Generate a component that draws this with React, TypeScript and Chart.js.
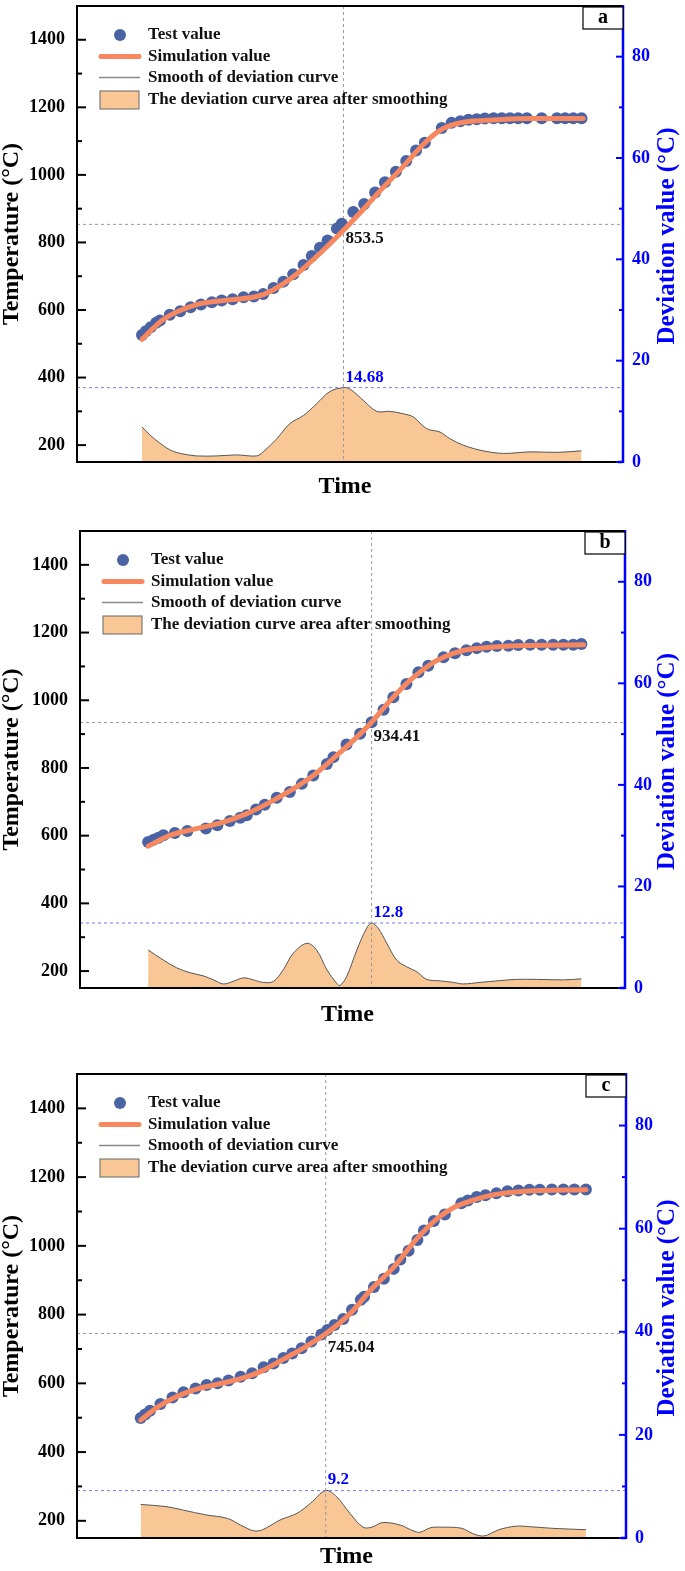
import React, { useEffect, useRef } from 'react';
import Chart from 'chart.js/auto';

// x is time as a percentage of the (unlabelled) time axis
// panel a
const testTimeA = [11.9, 12.6, 13.5, 14.5, 15.2, 17.0, 18.9, 20.8, 22.7, 24.7, 26.5, 28.5, 30.5, 32.4, 34.1, 36.0, 37.8, 39.6, 41.5, 43.0, 44.5, 45.9, 47.6, 48.5, 50.6, 52.6, 54.6, 56.4, 58.4, 60.3, 62.1, 63.7, 66.8, 68.6, 70.2, 71.7, 73.2, 74.7, 76.3, 77.8, 79.3, 80.8, 82.4, 85.1, 87.9, 89.4, 90.9, 92.4];
const testTempA = [526, 537, 549, 562, 569, 586, 596, 608, 616, 623, 628, 632, 638, 640, 647, 665, 684, 706, 733, 760, 784, 806, 841, 855, 890, 914, 948, 978, 1009, 1041, 1072, 1095, 1139, 1154, 1159, 1163, 1165, 1167, 1168, 1168, 1168, 1168, 1168, 1168, 1168, 1168, 1168, 1168];
const simTimeA = [11.9, 15.8, 21.9, 28.0, 32.9, 35.4, 40.2, 45.1, 48.8, 52.5, 56.1, 59.8, 63.4, 66.2, 68.3, 70.8, 76.9, 83.0, 92.7];
const simTempA = [513, 572, 616, 630, 640, 655, 706, 777, 836, 899, 963, 1026, 1090, 1129, 1146, 1156, 1163, 1167, 1167];
const devTimeA = [11.9, 13.4, 15.2, 17.0, 18.9, 21.9, 25.6, 29.3, 32.9, 34.1, 36.6, 39.0, 41.5, 43.9, 46.3, 48.8, 50.0, 52.5, 54.9, 57.3, 59.8, 61.6, 64.0, 66.5, 68.3, 70.8, 74.4, 78.1, 83.0, 87.9, 92.4];
const devValueA = [6.9, 5.3, 3.7, 2.4, 1.7, 1.2, 1.2, 1.4, 1.2, 2.0, 4.6, 7.6, 9.2, 11.5, 13.9, 14.68, 14.4, 12.1, 10.0, 10.0, 9.5, 8.9, 6.6, 5.9, 4.6, 3.3, 2.2, 1.7, 2.0, 1.9, 2.2];

// panel b
const testTimeB = [12.5, 13.5, 14.4, 15.3, 17.4, 19.7, 23.1, 25.2, 27.5, 29.4, 30.6, 32.3, 33.9, 36.1, 38.5, 40.7, 42.8, 45.3, 46.5, 48.9, 51.4, 53.5, 55.7, 57.5, 59.9, 62.1, 63.9, 66.7, 68.8, 70.9, 72.8, 74.6, 76.5, 78.6, 80.4, 82.6, 84.7, 86.8, 88.7, 90.5, 92.0];
const testTempB = [581, 588, 594, 601, 608, 614, 621, 631, 643, 653, 660, 677, 691, 712, 729, 753, 778, 812, 832, 869, 901, 935, 972, 1009, 1048, 1083, 1102, 1127, 1139, 1148, 1154, 1158, 1160, 1161, 1163, 1164, 1164, 1164, 1164, 1164, 1166];
const simTimeB = [12.5, 16.5, 21.4, 26.3, 30.6, 34.9, 38.5, 42.8, 47.1, 50.8, 53.5, 56.9, 60.5, 64.2, 66.7, 70.3, 76.5, 82.6, 92.4];
const simTempB = [569, 601, 621, 640, 665, 699, 732, 778, 837, 891, 935, 999, 1058, 1105, 1127, 1147, 1158, 1162, 1164];
const devTimeB = [12.5, 15.3, 17.7, 20.2, 22.6, 24.5, 26.3, 28.1, 30.0, 31.8, 33.6, 35.5, 37.3, 39.1, 41.6, 43.4, 45.3, 47.1, 47.7, 48.9, 50.8, 52.6, 53.5, 54.7, 56.3, 58.1, 59.9, 61.8, 63.6, 66.1, 68.5, 70.3, 73.4, 76.5, 80.1, 83.8, 88.7, 92.0];
const devValueB = [7.5, 5.5, 4.0, 3.0, 2.4, 1.6, 0.8, 1.3, 2.0, 1.6, 1.1, 1.3, 3.6, 6.8, 8.8, 7.5, 3.6, 0.9, 0.5, 2.2, 7.5, 11.8, 12.8, 11.8, 8.8, 5.5, 4.2, 3.2, 1.7, 1.4, 1.1, 0.8, 1.1, 1.4, 1.7, 1.7, 1.6, 1.8];

// panel c
const testTimeC = [11.6, 12.4, 13.3, 15.2, 17.4, 19.4, 21.6, 23.6, 25.6, 27.6, 29.8, 31.9, 34.0, 35.8, 37.6, 39.2, 40.9, 42.7, 44.5, 45.6, 46.9, 48.5, 50.1, 51.7, 52.3, 54.1, 55.9, 57.7, 58.9, 60.4, 62.0, 63.2, 65.0, 67.0, 70.0, 71.2, 72.8, 74.4, 76.4, 78.4, 80.4, 82.4, 84.3, 86.5, 88.6, 90.6, 92.7];
const testTempC = [499, 509, 520, 540, 559, 574, 585, 595, 600, 608, 619, 629, 647, 658, 674, 687, 702, 722, 742, 755, 770, 787, 814, 843, 852, 880, 904, 933, 960, 986, 1017, 1045, 1072, 1091, 1124, 1132, 1142, 1147, 1153, 1159, 1161, 1163, 1163, 1164, 1164, 1164, 1164];
const simTimeC = [11.6, 14.6, 17.8, 21.8, 25.8, 30.6, 33.8, 37.7, 41.7, 45.3, 49.7, 53.7, 57.7, 61.6, 65.6, 68.8, 72.0, 76.0, 81.6, 92.7];
const simTempC = [493, 530, 559, 583, 598, 617, 637, 671, 707, 744, 802, 875, 938, 1015, 1079, 1113, 1132, 1149, 1159, 1163];
const devTimeC = [11.6, 16.2, 19.4, 23.4, 27.4, 29.8, 32.2, 33.8, 37.0, 40.1, 42.5, 45.3, 47.3, 49.7, 52.1, 53.7, 55.7, 58.9, 60.8, 62.4, 64.4, 66.4, 70.0, 72.0, 73.6, 74.8, 76.8, 80.0, 82.4, 86.3, 92.7];
const devValueC = [6.5, 6.1, 5.4, 4.5, 3.8, 2.5, 1.4, 1.6, 3.5, 4.8, 6.7, 9.2, 8.0, 4.8, 2.1, 2.1, 3.0, 2.5, 1.6, 1.1, 2.0, 2.1, 1.9, 0.9, 0.4, 0.6, 1.6, 2.3, 2.2, 1.9, 1.6];

// marked points (a, b, c)
const panelLetters = ['a', 'b', 'c'];
const crossTimes = [48.8, 53.5, 45.3];
const crossTemps = [853.5, 934.41, 745.04];
const peakTimes = [48.8, 53.5, 45.3];
const peakDeviations = [14.68, 12.8, 9.2];

const tempTicks = [200, 400, 600, 800, 1000, 1200, 1400];
const devTicks = [0, 20, 40, 60, 80];
const legendLabels = ['Test value', 'Simulation value', 'Smooth of deviation curve', 'The deviation curve area after smoothing'];

const SERIF = '"Liberation Serif", "Times New Roman", Times, serif';
const POINT_BLUE = '#4a63a5';
const SIM_ORANGE = '#f7875e';
const AREA_FILL = '#f9c796';
const AXIS_BLUE = '#0000ff';

// canvas placement on the page; left/right/bottom are the plot frame in canvas px
const frames = [
    { top: 0, height: 523, padTop: 2, left: 77, right: 623, bottom: 462, timeY: 487 },
    { top: 523, height: 524, padTop: 8, left: 80, right: 625, bottom: 465, timeY: 492 },
    { top: 1047, height: 524, padTop: 27, left: 77, right: 626, bottom: 491, timeY: 510 },
];

const panels = [
    { testTime: testTimeA, testTemp: testTempA, simTime: simTimeA, simTemp: simTempA, devTime: devTimeA, devValue: devValueA },
    { testTime: testTimeB, testTemp: testTempB, simTime: simTimeB, simTemp: simTempB, devTime: devTimeB, devValue: devValueB },
    { testTime: testTimeC, testTemp: testTempC, simTime: simTimeC, simTemp: simTempC, devTime: devTimeC, devValue: devValueC },
];

const zip = (xs: number[], ys: number[]) => xs.map((x, i) => ({ x, y: ys[i] }));
const mids = (ticks: number[]) => ticks.slice(1).map((v, i) => (v + ticks[i]) / 2);

const makeDecor = (index: number) => {
    const frame = frames[index];
    const strokeLine = (ctx: CanvasRenderingContext2D, x1: number, y1: number, x2: number, y2: number) => {
        ctx.beginPath();
        ctx.moveTo(x1, y1);
        ctx.lineTo(x2, y2);
        ctx.stroke();
    };
    return {
        id: 'decor' + index,
        afterDatasetDraw(chart: any, args: any) {
            // guide lines sit over the deviation area but under the temperature curves
            if (args.index !== 2) return;
            const { ctx, chartArea: a, scales } = chart;
            const xv = scales.x.getPixelForValue(crossTimes[index]);
            const yt = scales.y.getPixelForValue(crossTemps[index]);
            const yd = scales.y2.getPixelForValue(peakDeviations[index]);
            ctx.save();
            ctx.lineWidth = 1;
            ctx.setLineDash([3, 3]);
            ctx.strokeStyle = '#9a9a9a';
            strokeLine(ctx, xv, a.top, xv, a.bottom);
            strokeLine(ctx, a.left, yt, a.right, yt);
            ctx.strokeStyle = '#6f7cff';
            strokeLine(ctx, a.left, yd, a.right, yd);
            ctx.restore();
        },
        afterDraw(chart: any) {
            const { ctx, chartArea: a, scales } = chart;
            ctx.save();

            // frame
            ctx.lineWidth = 2;
            ctx.strokeStyle = '#000';
            strokeLine(ctx, a.left - 1, a.top, a.right, a.top);
            strokeLine(ctx, a.left, a.top, a.left, a.bottom + 1);
            strokeLine(ctx, a.left - 1, a.bottom, a.right - 2, a.bottom);
            ctx.strokeStyle = AXIS_BLUE;
            ctx.lineWidth = 2.5;
            strokeLine(ctx, a.right, a.top - 1, a.right, a.bottom + 1);
            strokeLine(ctx, a.right - 5, a.bottom, a.right, a.bottom);

            // inward ticks
            ctx.lineWidth = 2;
            ctx.strokeStyle = '#000';
            tempTicks.forEach((v) => {
                const y = scales.y.getPixelForValue(v);
                strokeLine(ctx, a.left, y, a.left + 9, y);
            });
            mids(tempTicks).forEach((v) => {
                const y = scales.y.getPixelForValue(v);
                strokeLine(ctx, a.left, y, a.left + 5, y);
            });
            ctx.strokeStyle = AXIS_BLUE;
            devTicks.forEach((v) => {
                const y = scales.y2.getPixelForValue(v);
                strokeLine(ctx, a.right, y, a.right - 7, y);
            });
            mids(devTicks).forEach((v) => {
                const y = scales.y2.getPixelForValue(v);
                strokeLine(ctx, a.right, y, a.right - 4, y);
            });

            // marked values
            const xv = scales.x.getPixelForValue(crossTimes[index]);
            const yt = scales.y.getPixelForValue(crossTemps[index]);
            const xp = scales.x.getPixelForValue(peakTimes[index]);
            const yd = scales.y2.getPixelForValue(peakDeviations[index]);
            ctx.font = `bold 17px ${SERIF}`;
            ctx.textAlign = 'left';
            ctx.textBaseline = 'top';
            ctx.fillStyle = '#111';
            ctx.fillText(String(crossTemps[index]), xv + 2, yt + 6);
            ctx.textBaseline = 'bottom';
            ctx.fillStyle = AXIS_BLUE;
            ctx.fillText(String(peakDeviations[index]), xp + 2, yd - 2);

            // legend
            const lx = a.left;
            const rows = [a.top + 29, a.top + 50.5, a.top + 71.5, a.top + 94];
            ctx.fillStyle = POINT_BLUE;
            ctx.beginPath();
            ctx.arc(lx + 43, rows[0], 6, 0, Math.PI * 2);
            ctx.fill();
            ctx.strokeStyle = SIM_ORANGE;
            ctx.lineWidth = 5;
            ctx.lineCap = 'round';
            strokeLine(ctx, lx + 24, rows[1], lx + 62, rows[1]);
            ctx.lineCap = 'butt';
            ctx.strokeStyle = '#888';
            ctx.lineWidth = 1.5;
            strokeLine(ctx, lx + 22, rows[2], lx + 63, rows[2]);
            ctx.fillStyle = AREA_FILL;
            ctx.fillRect(lx + 23, rows[3] - 9, 39, 18);
            ctx.strokeStyle = '#666';
            ctx.lineWidth = 1;
            ctx.strokeRect(lx + 23, rows[3] - 9, 39, 18);
            ctx.fillStyle = '#111';
            ctx.font = `bold 17px ${SERIF}`;
            ctx.textBaseline = 'middle';
            legendLabels.forEach((label, i) => ctx.fillText(label, lx + 71, rows[i]));

            // panel letter
            ctx.fillStyle = '#fff';
            ctx.fillRect(a.right - 40, a.top + 1, 40, 22);
            ctx.strokeStyle = '#000';
            ctx.lineWidth = 1.2;
            ctx.strokeRect(a.right - 40, a.top + 1, 40, 22);
            ctx.fillStyle = '#000';
            ctx.font = `bold 20px ${SERIF}`;
            ctx.textAlign = 'center';
            ctx.fillText(panelLetters[index], a.right - 20, a.top + 12);

            // axis titles
            const cy = (a.top + a.bottom) / 2;
            ctx.save();
            ctx.font = `bold 24px ${SERIF}`;
            ctx.translate(12, cy);
            ctx.rotate(-Math.PI / 2);
            ctx.fillStyle = '#000';
            ctx.fillText('Temperature (°C)', 0, 0);
            ctx.restore();
            ctx.save();
            ctx.font = `bold 25px ${SERIF}`;
            ctx.translate(668, cy + 2);
            ctx.rotate(-Math.PI / 2);
            ctx.fillStyle = AXIS_BLUE;
            ctx.fillText('Deviation value (°C)', 0, 0);
            ctx.restore();
            ctx.font = `bold 24px ${SERIF}`;
            ctx.fillStyle = '#000';
            ctx.fillText('Time', (a.left + a.right) / 2 - 5, frame.timeY);

            ctx.restore();
        },
    };
};

const Panel: React.FC<{ index: number }> = ({ index }) => {
    const canvasRef = useRef<HTMLCanvasElement | null>(null);
    const chartInstance = useRef<Chart | null>(null);
    const frame = frames[index];

    useEffect(() => {
        if (!canvasRef.current) return;
        const p = panels[index];
        if (chartInstance.current) chartInstance.current.destroy();
        chartInstance.current = new Chart(canvasRef.current, {
            type: 'line',
            data: {
                datasets: [
                    {
                        label: 'Simulation value',
                        data: zip(p.simTime, p.simTemp),
                        borderColor: SIM_ORANGE,
                        borderWidth: 5,
                        borderCapStyle: 'round',
                        pointRadius: 0,
                        cubicInterpolationMode: 'monotone',
                        yAxisID: 'y',
                        order: 0,
                    },
                    {
                        label: 'Test value',
                        data: zip(p.testTime, p.testTemp),
                        showLine: false,
                        pointRadius: 6,
                        pointBackgroundColor: POINT_BLUE,
                        pointBorderColor: POINT_BLUE,
                        pointBorderWidth: 0,
                        yAxisID: 'y',
                        order: 1,
                    },
                    {
                        label: 'Smooth of deviation curve',
                        data: zip(p.devTime, p.devValue),
                        borderColor: '#555',
                        borderWidth: 1,
                        backgroundColor: AREA_FILL,
                        fill: 'origin',
                        pointRadius: 0,
                        tension: 0.35,
                        yAxisID: 'y2',
                        order: 2,
                    },
                ],
            } as any,
            options: {
                animation: false,
                responsive: false,
                events: [],
                layout: { padding: { top: frame.padTop, left: 0, right: 0, bottom: 0 } },
                plugins: {
                    legend: { display: false },
                    tooltip: { enabled: false },
                },
                scales: {
                    x: {
                        type: 'linear',
                        min: 0,
                        max: 100,
                        ticks: { display: false },
                        grid: { display: false, drawTicks: false },
                        border: { display: false },
                        afterFit: (s: any) => {
                            s.height = frame.height - frame.bottom;
                            s.paddingLeft = 0;
                            s.paddingRight = 0;
                        },
                    },
                    y: {
                        type: 'linear',
                        position: 'left',
                        min: 150,
                        max: 1500,
                        afterBuildTicks: (s: any) => {
                            s.ticks = tempTicks.map((v) => ({ value: v }));
                        },
                        ticks: {
                            color: '#000',
                            padding: 12,
                            font: { family: SERIF, size: 18, weight: 'bold' },
                            callback: (v: any) => String(v),
                        },
                        grid: { display: false, drawTicks: false },
                        border: { display: false },
                        afterFit: (s: any) => {
                            s.width = frame.left;
                            s.paddingTop = 0;
                            s.paddingBottom = 0;
                        },
                    },
                    y2: {
                        type: 'linear',
                        position: 'right',
                        min: 0,
                        max: 90,
                        afterBuildTicks: (s: any) => {
                            s.ticks = devTicks.map((v) => ({ value: v }));
                        },
                        ticks: {
                            color: AXIS_BLUE,
                            padding: 9,
                            font: { family: SERIF, size: 18, weight: 'bold' },
                            callback: (v: any) => String(v),
                        },
                        grid: { display: false, drawTicks: false },
                        border: { display: false },
                        afterFit: (s: any) => {
                            s.width = 685 - frame.right;
                            s.paddingTop = 0;
                            s.paddingBottom = 0;
                        },
                    },
                },
            } as any,
            plugins: [makeDecor(index)],
        });
        return () => {
            if (chartInstance.current) {
                chartInstance.current.destroy();
                chartInstance.current = null;
            }
        };
    }, [index]);

    return (
        <div style={{ position: 'absolute', left: 0, top: frame.top, width: 685, height: frame.height }}>
            <canvas ref={canvasRef} width={685} height={frame.height} style={{ display: 'block' }}></canvas>
        </div>
    );
};

const App: React.FC = () => {
    return (
        <div style={{ position: 'absolute', left: 0, top: 0, width: 685, height: 1571, background: '#fff' }}>
            {frames.map((_, i) => (
                <Panel key={i} index={i} />
            ))}
        </div>
    );
};

export default App;
